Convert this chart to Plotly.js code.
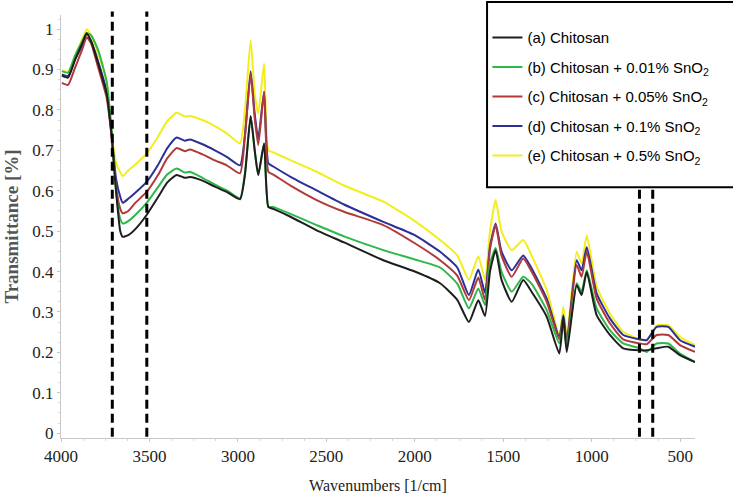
<!DOCTYPE html>
<html>
<head>
<meta charset="utf-8">
<script src="https://cdn.plot.ly/plotly-3.0.1.min.js"></script>
<style>html,body{margin:0;padding:0;background:#fff;}#chart{width:733px;height:500px;}</style>
</head>
<body>
<div id="chart"></div>
<script>
var wavenumbers = [3995,3960,3920,3880,3855,3830,3790,3742,3713,3689,3665,3651,3620,3580,3516,3450,3400,3346,3300,3271,3200,3130,3063,2988,2960,2928,2905,2885,2852,2828,2800,2700,2555,2400,2178,2000,1857,1760,1694,1641,1603,1575,1543,1510,1452,1387,1340,1254,1183,1160,1141,1085,1057,1028,972,897,822,727,689,633,567,501,416];

var chitosan = [.885,.880,.925,.965,.99,.97,.915,.84,.733,.60,.50,.486,.49,.505,.54,.585,.62,.639,.632,.634,.625,.61,.597,.579,.64,.785,.70,.639,.717,.56,.555,.535,.502,.472,.428,.40,.371,.33,.275,.329,.29,.40,.453,.38,.325,.379,.35,.288,.197,.288,.201,.366,.342,.399,.292,.243,.21,.205,.205,.21,.214,.193,.176];
var sno2_001 = [.896,.892,.935,.97,.99,.985,.948,.87,.745,.60,.53,.519,.525,.54,.57,.61,.64,.655,.645,.647,.632,.615,.601,.581,.644,.785,.70,.639,.717,.56,.56,.542,.515,.487,.453,.43,.41,.37,.309,.358,.317,.42,.458,.40,.35,.387,.37,.304,.222,.276,.215,.371,.35,.403,.309,.255,.222,.21,.201,.222,.222,.197,.176];
var sno2_005 = [.867,.862,.905,.95,.98,.965,.905,.83,.73,.61,.555,.544,.55,.57,.597,.64,.68,.706,.698,.702,.69,.675,.663,.643,.735,.89,.78,.713,.845,.647,.64,.612,.577,.548,.515,.47,.428,.39,.329,.385,.33,.455,.515,.44,.387,.432,.40,.325,.232,.28,.22,.416,.387,.449,.333,.272,.232,.222,.22,.243,.243,.218,.201];
var sno2_01 = [.888,.884,.925,.96,.99,.97,.92,.845,.735,.63,.585,.57,.58,.595,.622,.665,.705,.732,.724,.727,.715,.70,.684,.663,.738,.896,.79,.729,.845,.668,.66,.634,.601,.566,.523,.49,.449,.41,.342,.405,.347,.462,.519,.45,.403,.44,.408,.333,.238,.292,.225,.428,.403,.461,.346,.284,.243,.232,.23,.263,.263,.23,.214];
var sno2_05 = [.898,.895,.935,.975,1.0,.985,.94,.87,.74,.67,.645,.636,.65,.665,.692,.735,.772,.793,.784,.785,.775,.76,.742,.717,.80,.973,.84,.791,.915,.70,.695,.675,.647,.613,.573,.525,.478,.44,.38,.438,.379,.50,.577,.50,.453,.478,.44,.354,.243,.313,.238,.449,.42,.49,.363,.296,.251,.232,.23,.267,.267,.238,.218];

var seriesNames = ["(a) Chitosan","(b) Chitosan + 0.01% SnO<sub>2</sub>","(c) Chitosan + 0.05% SnO<sub>2</sub>","(d) Chitosan + 0.1% SnO<sub>2</sub>","(e) Chitosan + 0.5% SnO<sub>2</sub>"];
var seriesColors = ["#1e1e1e","#2fb84a","#b03a3a","#2c2f96","#f2ee1c"];
var xTickVals = [4000,3500,3000,2500,2000,1500,1000,500];
var yTickVals = [0,0.1,0.2,0.3,0.4,0.5,0.6,0.7,0.8,0.9,1];
var yTickText = ["0","0.1","0.2","0.3","0.4","0.5","0.6","0.7","0.8","0.9","1"];
var fullDashed = [3710,3515];
var lowDashed = [730,655];

var seriesData = [chitosan, sno2_001, sno2_005, sno2_01, sno2_05];
var traces = [];
for (var i = seriesData.length - 1; i >= 0; i--) {
  traces.push({
    x: wavenumbers, y: seriesData[i], type: 'scatter', mode: 'lines',
    name: seriesNames[i], legendgroup: 'g' + i, legendrank: i + 1,
    line: {color: seriesColors[i], width: 2, shape: 'spline', smoothing: 0.5}
  });
}

var shapes = [];
fullDashed.forEach(function(v){
  shapes.push({type:'line', xref:'x', yref:'paper', x0:v, x1:v, y0:0.003, y1:1.008,
    line:{color:'#000', width:3, dash:'9px,5px'}});
});
lowDashed.forEach(function(v){
  shapes.push({type:'line', xref:'x', yref:'paper', x0:v, x1:v, y0:0.003, y1:0.593,
    line:{color:'#000', width:3, dash:'9px,5px'}});
});
shapes.push({type:'rect', xref:'paper', yref:'paper', x0:0.672, x1:1.08, y0:0.593, y1:1.031,
  line:{color:'#000', width:2}, fillcolor:'rgba(0,0,0,0)'});

var layout = {
  width: 733, height: 500,
  margin: {l: 61, r: 38, t: 15, b: 62},
  paper_bgcolor: '#fff', plot_bgcolor: '#fff',
  showlegend: true,
  legend: {x: 0.6726, xanchor: 'left', y: 0.985, yanchor: 'top',
    font: {family: 'Liberation Sans, Arial, sans-serif', size: 15, color: '#000'},
    bgcolor: 'rgba(0,0,0,0)', borderwidth: 0, traceorder: 'grouped', tracegroupgap: 7},
  xaxis: {
    range: [4000, 416], showgrid: false, zeroline: false,
    showline: true, linecolor: '#c8c8c8', linewidth: 1,
    tickmode: 'array', tickvals: xTickVals, ticks: 'outside', ticklen: 3, tickcolor: '#c8c8c8',
    minor: {dtick: 125, ticks: 'outside', ticklen: 2, tickcolor: '#d8d8d8'},
    tickfont: {family: 'Liberation Serif, Times New Roman, serif', size: 17, color: '#222'},
    title: {text: 'Wavenumbers [1/cm]', standoff: 14,
      font: {family: 'Liberation Serif, Times New Roman, serif', size: 16, color: '#222'}}
  },
  yaxis: {
    range: [-0.012, 1.035], showgrid: false, zeroline: false,
    showline: true, linecolor: '#c8c8c8', linewidth: 1,
    tickmode: 'array', tickvals: yTickVals, ticktext: yTickText, ticks: 'outside', ticklen: 3, tickcolor: '#c8c8c8',
    minor: {dtick: 0.025, ticks: 'outside', ticklen: 2, tickcolor: '#d8d8d8'},
    tickfont: {family: 'Liberation Serif, Times New Roman, serif', size: 17, color: '#222'},
    title: {text: '<b>Transmittance [%]</b>', standoff: 8,
      font: {family: 'Liberation Serif, Times New Roman, serif', size: 19, color: '#555'}}
  },
  shapes: shapes
};

Plotly.newPlot('chart', traces, layout, {displayModeBar: false, staticPlot: true});
</script>
</body>
</html>
